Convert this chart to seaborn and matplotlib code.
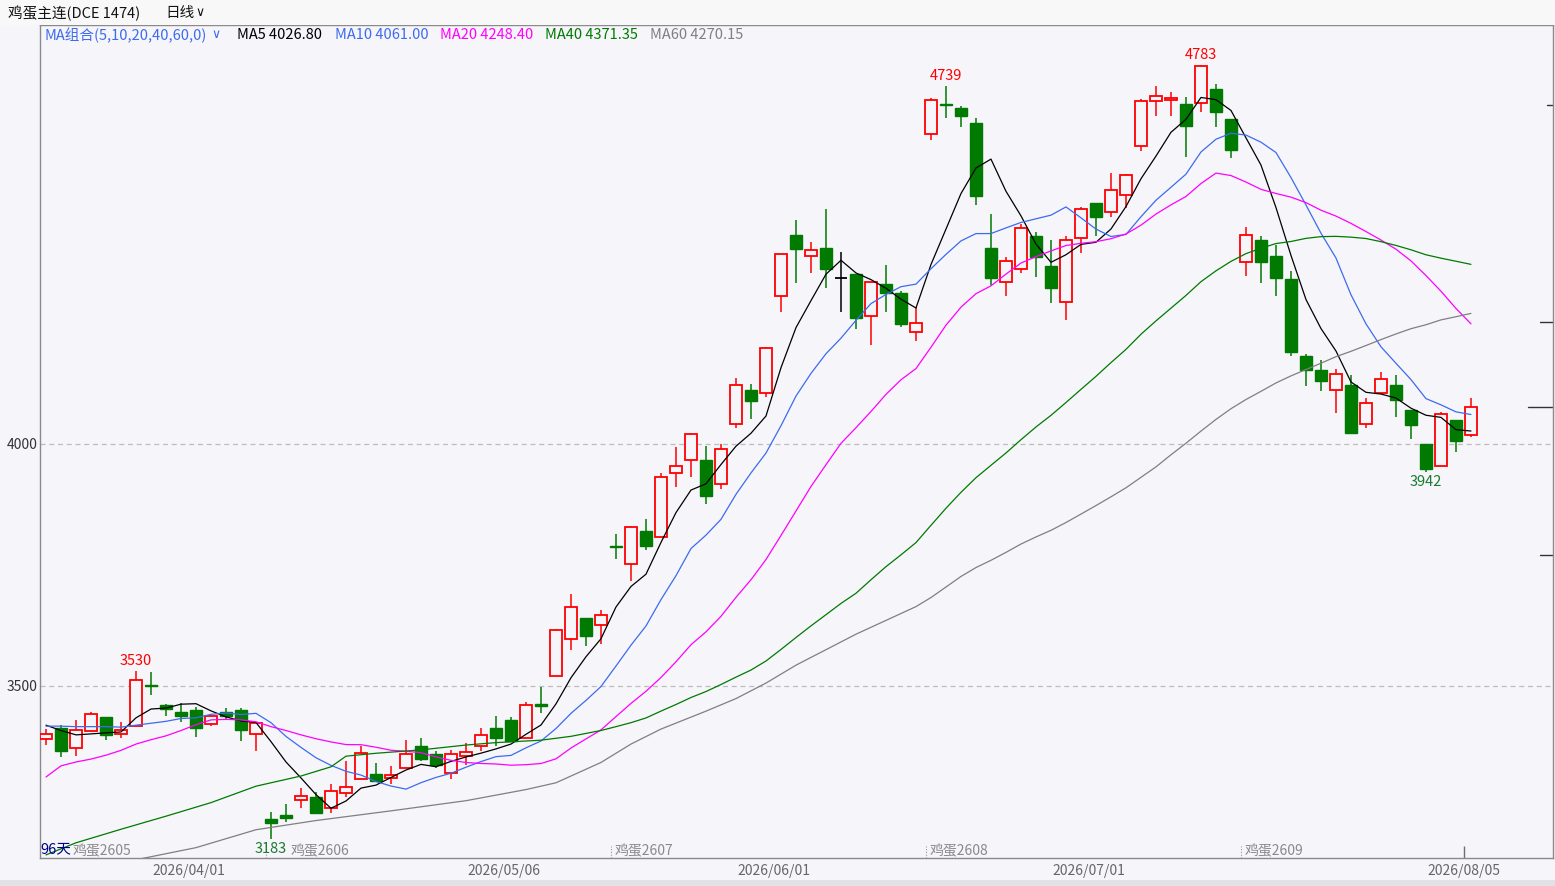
import numpy as np
import pandas as pd
import matplotlib
matplotlib.use('Agg')
import matplotlib.pyplot as plt
import matplotlib.transforms as mtransforms
from matplotlib.patches import Rectangle
import seaborn as sns

# ── Data ────────────────────────────────────────────────────────────────────
opens = [3390, 3414, 3371, 3408, 3436, 3400, 3418, 3502, 3461, 3446,
         3450, 3421, 3446, 3450, 3400, 3225, 3233, 3264, 3271, 3247,
         3278, 3307, 3319, 3309, 3330, 3376, 3359, 3320, 3356, 3376,
         3413, 3430, 3392, 3463, 3521, 3598, 3640, 3627, 3789, 3752,
         3820, 3807, 3940, 3966, 3967, 3917, 4041, 4111, 4105, 4305,
         4431, 4389, 4405, 4342, 4352, 4265, 4330, 4312, 4232, 4641,
         4702, 4694, 4664, 4405, 4334, 4361, 4430, 4368, 4293, 4425,
         4498, 4479, 4514, 4615, 4708, 4710, 4703, 4704, 4734, 4672,
         4376, 4422, 4389, 4341, 4182, 4153, 4111, 4121, 4041, 4105,
         4121, 4070, 4000, 3954, 4050, 4018]
highs = [3412, 3419, 3430, 3447, 3436, 3426, 3531, 3528, 3463, 3464,
         3457, 3438, 3454, 3454, 3423, 3240, 3256, 3289, 3280, 3297,
         3344, 3375, 3340, 3335, 3388, 3393, 3365, 3368, 3382, 3413,
         3437, 3435, 3467, 3497, 3618, 3690, 3640, 3657, 3814, 3831,
         3845, 3940, 3993, 4023, 3996, 3999, 4136, 4124, 4201, 4392,
         4462, 4417, 4485, 4396, 4352, 4334, 4369, 4316, 4283, 4715,
         4739, 4699, 4674, 4475, 4386, 4454, 4438, 4422, 4429, 4489,
         4498, 4559, 4557, 4712, 4740, 4727, 4717, 4783, 4744, 4672,
         4448, 4429, 4411, 4358, 4185, 4174, 4155, 4143, 4096, 4148,
         4143, 4070, 4000, 4066, 4050, 4096]
lows = [3379, 3354, 3356, 3408, 3388, 3393, 3418, 3481, 3437, 3426,
        3395, 3417, 3430, 3387, 3366, 3183, 3218, 3247, 3235, 3237,
        3270, 3307, 3304, 3297, 3330, 3344, 3330, 3308, 3337, 3366,
        3377, 3387, 3392, 3445, 3521, 3574, 3583, 3587, 3763, 3716,
        3781, 3807, 3912, 3931, 3875, 3906, 4034, 4051, 4098, 4272,
        4333, 4354, 4323, 4272, 4237, 4204, 4273, 4242, 4213, 4628,
        4674, 4655, 4493, 4328, 4305, 4353, 4346, 4291, 4257, 4394,
        4429, 4470, 4487, 4606, 4678, 4678, 4592, 4685, 4654, 4590,
        4348, 4332, 4305, 4181, 4119, 4110, 4064, 4020, 4034, 4105,
        4055, 4011, 3942, 3954, 3983, 4015]
closes = [3400, 3366, 3409, 3442, 3399, 3409, 3512, 3500, 3452, 3439,
          3414, 3438, 3438, 3410, 3423, 3216, 3228, 3273, 3238, 3282,
          3291, 3361, 3304, 3317, 3359, 3349, 3337, 3359, 3363, 3398,
          3393, 3387, 3460, 3459, 3616, 3663, 3604, 3646, 3787, 3828,
          3790, 3932, 3954, 4020, 3893, 3989, 4121, 4088, 4198, 4392,
          4403, 4400, 4361, 4342, 4261, 4334, 4311, 4248, 4251, 4710,
          4700, 4678, 4512, 4343, 4378, 4446, 4387, 4323, 4421, 4485,
          4468, 4524, 4555, 4708, 4719, 4714, 4658, 4781, 4685, 4608,
          4431, 4377, 4342, 4191, 4152, 4131, 4145, 4022, 4084, 4134,
          4090, 4040, 3949, 4062, 4007, 4076]

# moving-average values before a full window exists
ma5_head = [3419, 3408, 3399, 3401]
ma10_head = [3417, 3417, 3416, 3416, 3416, 3415, 3419, 3423, 3427]
ma20_head = [3312, 3335, 3343, 3349, 3357, 3367, 3380, 3389, 3397, 3408,
             3420, 3430, 3431, 3430, 3426, 3416, 3408, 3399, 3391]
ma40_head_idx = [0, 2, 5, 8, 11, 14, 17, 19, 20, 22, 25, 28, 30, 33, 35, 37, 38]
ma40_head = [3151, 3176, 3204, 3231, 3259, 3293, 3314, 3333, 3355, 3361,
             3368, 3378, 3383, 3388, 3396, 3408, 3416]
ma60_head_idx = [5, 6, 10, 14, 18, 23, 28, 32, 34, 37, 39, 41, 44, 46, 48, 50, 54, 58]
ma60_head = [3128, 3141, 3166, 3203, 3222, 3242, 3263, 3286, 3300, 3342,
             3380, 3411, 3448, 3474, 3506, 3543, 3607, 3664]

ma_names = ['MA5', 'MA10', 'MA20', 'MA40', 'MA60']
ma_last = ['4026.80', '4061.00', '4248.40', '4371.35', '4270.15']
ma_colors = ['#000000', '#3D6BEF', '#FF00FF', '#007A00', '#808080']

date_idx = [10, 31, 49, 70, 95]
date_labels = ['2026/04/01', '2026/05/06', '2026/06/01', '2026/07/01', '2026/08/05']
contract_idx = [0, 15, 38, 59, 80]
contract_labels = ['鸡蛋2605', '鸡蛋2606', '鸡蛋2607', '鸡蛋2608', '鸡蛋2609']

ann_idx = [6, 60, 77, 15, 92]
ann_text = ['3530', '4739', '4783', '3183', '3942']
ann_kind = ['high', 'high', 'high', 'low', 'low']

# ── Style ────────────────────────────────────────────────────────────────────
BG = '#F5F5FA'
RED = '#FF0000'
GREEN = '#007A00'
sns.set_theme(style='white')
plt.rcParams['font.family'] = ['Noto Sans CJK SC', 'DejaVu Sans']

W, H = 1555, 886
fig = plt.figure(figsize=(W / 100, H / 100), dpi=100, facecolor=BG)
L, R, T, B = 40, 1553, 25, 858
ax = fig.add_axes([L / W, 1 - B / H, (R - L) / W, (B - T) / H], facecolor=BG)

ymin, ymax = 3144.6, 4865.7
ax.set_ylim(ymin, ymax)
ax.set_xlim(-0.4, 100.47)

# header strip and bottom bar
fig.patches.append(Rectangle((0, 1 - T / H), 1, T / H, transform=fig.transFigure,
                             facecolor='#F8F8F8', edgecolor='none', zorder=0))
fig.patches.append(Rectangle((0, 0), 1, 6 / H, transform=fig.transFigure,
                             facecolor='#E1E1E6', edgecolor='none', zorder=0))

# ── Candles ──────────────────────────────────────────────────────────────────
df = pd.DataFrame({'open': opens, 'high': highs, 'low': lows, 'close': closes})
df['idx'] = np.arange(len(df))
df['color'] = np.where(df['close'] > df['open'], RED,
                       np.where(df['close'] < df['open'], GREEN, '#000000'))
df['bottom'] = df[['open', 'close']].min(axis=1)
df['height'] = (df['close'] - df['open']).abs()

ax.vlines(df['idx'], df['low'], df['high'], colors=df['color'], lw=1.1, zorder=2)
up = df[df['close'] > df['open']]
dn = df[df['close'] < df['open']]
flat = df[df['close'] == df['open']]
ax.bar(up['idx'], up['height'], bottom=up['bottom'], width=0.8,
       facecolor=BG, edgecolor=RED, linewidth=1.3, zorder=3)
ax.bar(dn['idx'], dn['height'], bottom=dn['bottom'], width=0.8,
       facecolor=GREEN, edgecolor=GREEN, linewidth=1.0, zorder=3)
ax.hlines(flat['close'], flat['idx'] - 0.4, flat['idx'] + 0.4, colors='#000000', lw=1.3, zorder=3)

# ── Moving averages ─────────────────────────────────────────────────────────
s = pd.Series(closes, dtype=float)
parts = []
for name, win, head, head_idx in [('MA5', 5, ma5_head, None),
                                  ('MA10', 10, ma10_head, None),
                                  ('MA20', 20, ma20_head, None),
                                  ('MA40', 40, ma40_head, ma40_head_idx),
                                  ('MA60', 60, ma60_head, ma60_head_idx)]:
    hidx = list(range(len(head))) if head_idx is None else head_idx
    roll = s.rolling(win).mean()
    parts.append(pd.DataFrame({'idx': hidx, 'value': head, 'line': name}))
    parts.append(pd.DataFrame({'idx': np.arange(win - 1, len(s)),
                               'value': roll.iloc[win - 1:].values, 'line': name}))
ma_df = pd.concat(parts, ignore_index=True)
sns.lineplot(data=ma_df, x='idx', y='value', hue='line', hue_order=ma_names,
             palette=dict(zip(ma_names, ma_colors)), estimator=None,
             linewidth=0.9, legend=False, ax=ax, zorder=4)

# ── Grid, axes ───────────────────────────────────────────────────────────────
for lvl in [3500, 4000]:
    ax.axhline(lvl, color='#BDBDBD', lw=0.9, ls=(0, (4, 3)), zorder=1)
ax.set_yticks([3500, 4000])
ax.set_yticklabels(['3500', '4000'], fontsize=10, color='#333333')
ax.set_xticks([i - 0.45 for i in date_idx])
ax.set_xticklabels(date_labels, fontsize=10, color='#666666')
ax.tick_params(axis='both', length=0)
ax.tick_params(axis='x', pad=4)
ax.tick_params(axis='y', pad=2)
ax.set_xlabel('')
ax.set_ylabel('')
for sp in ax.spines.values():
    sp.set_color('#8A8A8A')
    sp.set_linewidth(1.0)

# last date tick mark
ax.vlines(date_idx[-1] - 0.45, ymin, ymin + 12 * 2.066, colors='#707070', lw=1.0, zorder=2)

# right edge marks
trans = mtransforms.blended_transform_factory(ax.transAxes, ax.transData)
for p, ln in [(4700, 6), (4252, 13), (4076, 25), (3771, 13)]:
    ax.plot([1 - ln / (R - L), 1], [p, p], color='#333333', lw=1.0, transform=trans, clip_on=False)

# contract roll markers (text nudged so it clears the labels that share the row)
label_shift = {0: 1.9, 15: 1.4}
for i, lab in zip(contract_idx, contract_labels):
    if i > 0:
        ax.vlines(i - 0.3, ymin, ymin + 12 * 2.066, colors='#999999', lw=0.8,
                  linestyles=(0, (1, 1.5)), zorder=2)
    ax.text(i - 0.1 + label_shift.get(i, 0), ymin + 7 * 2.066, lab, fontsize=10,
            color='#8A8A8A', ha='left', va='center', zorder=5)
ax.text(-0.4, ymin + 9 * 2.066, '96天', fontsize=10.5, color='#00008B',
        ha='left', va='center', zorder=6)

# high / low annotations
for i, t, k in zip(ann_idx, ann_text, ann_kind):
    if k == 'high':
        ax.text(i, highs[i] + 3 * 2.066, t, fontsize=10.5, color=RED,
                ha='center', va='bottom', zorder=6)
    else:
        ax.text(i, lows[i] - 3 * 2.066, t, fontsize=10.5, color='#1B7A2E',
                ha='center', va='top', zorder=6)

# ── Header texts ─────────────────────────────────────────────────────────────
def fx(px):
    return px / W

def fy(py):
    return 1 - py / H

fig.text(fx(8), fy(13), '鸡蛋主连(DCE 1474)', fontsize=10.5, color='#111111',
         ha='left', va='center')
fig.text(fx(165), fy(13), '日线', fontsize=10.5, color='#111111', ha='left', va='center')
fig.text(fx(195), fy(13), '∨', fontsize=9, color='#111111', ha='left', va='center',
         family=['DejaVu Sans'])

fig.text(fx(45), fy(35), 'MA组合(5,10,20,40,60,0)', fontsize=10.5, color='#3D6BEF',
         ha='left', va='center')
fig.text(fx(211), fy(35), '∨', fontsize=9, color='#3D6BEF', ha='left', va='center',
         family=['DejaVu Sans'])
leg_x = [237, 335, 440, 545, 650]
for xx, name, val, col in zip(leg_x, ma_names, ma_last, ma_colors):
    fig.text(fx(xx), fy(35), f'{name} {val}', fontsize=10.5, color=col,
             ha='left', va='center')

fig.savefig('out.png', dpi=100, facecolor=BG)
